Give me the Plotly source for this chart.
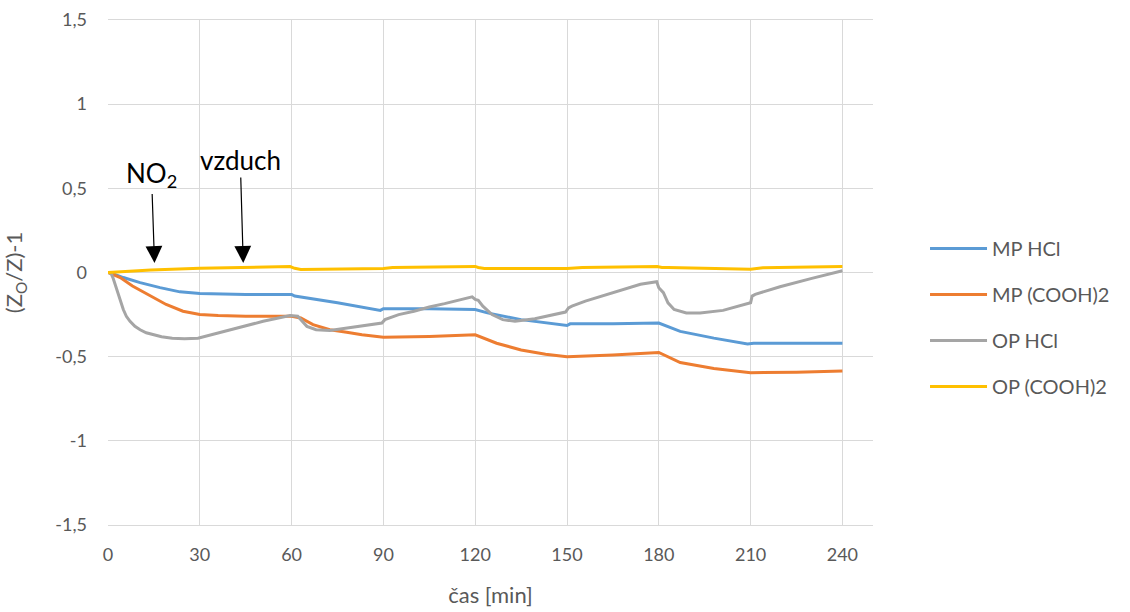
import plotly.graph_objects as go

# ---- data ----
t_mp_hcl = [0, 2, 5, 10.5, 17, 23.5, 30, 45, 60, 61, 75, 89, 90, 105, 120, 124, 135, 145, 150, 151, 165, 180, 187, 198, 209, 211, 225, 240]
mp_hcl = [0, -0.01, -0.03, -0.06, -0.09, -0.115, -0.125, -0.13, -0.13, -0.14, -0.18, -0.225, -0.215, -0.215, -0.22, -0.24, -0.28, -0.305, -0.315, -0.305, -0.305, -0.30, -0.35, -0.39, -0.425, -0.42, -0.42, -0.42]

t_mp_cooh = [0, 4, 8, 14, 19, 24.5, 30, 36, 45, 60, 63, 67, 72.5, 78, 83, 90, 105, 120, 123, 127, 135, 143, 150, 165, 180, 183, 187, 198, 210, 225, 240]
mp_cooh = [0, -0.03, -0.08, -0.14, -0.19, -0.23, -0.25, -0.256, -0.26, -0.26, -0.27, -0.31, -0.34, -0.355, -0.37, -0.385, -0.38, -0.37, -0.39, -0.42, -0.46, -0.485, -0.5, -0.49, -0.475, -0.50, -0.535, -0.57, -0.595, -0.592, -0.585]

t_op_hcl = [0, 1, 1.6, 2.5, 3.3, 4.2, 5, 6, 7.2, 8.8, 10.5, 12.5, 14.7, 17.5, 21, 25, 29.4, 35.6, 42, 50.7, 59.5, 62, 65, 68, 72.5, 78, 83, 88, 89.5, 90.5, 95, 100, 105, 110, 115, 119, 120, 121, 122.5, 125.5, 129, 133, 139.5, 145, 149.5, 150.5, 151.6, 156, 165, 174, 179.3, 180, 181.5, 183, 185, 189, 193.5, 201, 210, 210.5, 211.5, 216, 219.6, 230, 240]
op_hcl = [0, -0.005, -0.03, -0.08, -0.13, -0.18, -0.22, -0.26, -0.29, -0.32, -0.34, -0.358, -0.37, -0.382, -0.39, -0.393, -0.39, -0.36, -0.33, -0.29, -0.255, -0.26, -0.32, -0.34, -0.345, -0.33, -0.32, -0.305, -0.30, -0.28, -0.25, -0.23, -0.205, -0.185, -0.165, -0.145, -0.16, -0.165, -0.2, -0.25, -0.28, -0.29, -0.275, -0.255, -0.235, -0.21, -0.2, -0.17, -0.12, -0.07, -0.055, -0.09, -0.12, -0.18, -0.22, -0.24, -0.24, -0.225, -0.18, -0.14, -0.13, -0.105, -0.085, -0.035, 0.01]

t_op_cooh = [0, 5, 14, 30, 45, 59.5, 61, 63, 90, 93, 120, 121, 123, 150, 155, 179.5, 181, 183, 210, 214, 240]
op_cooh = [0, 0.005, 0.015, 0.025, 0.032, 0.035, 0.025, 0.018, 0.024, 0.03, 0.036, 0.03, 0.024, 0.024, 0.03, 0.036, 0.03, 0.03, 0.02, 0.028, 0.036]

series_names = ["MP HCl", "MP (COOH)2", "OP HCl", "OP (COOH)2"]
series_colors = ["#5B9BD5", "#ED7D31", "#A5A5A5", "#FFC000"]

x_tickvals = [0, 30, 60, 90, 120, 150, 180, 210, 240]
y_tickvals = [1.5, 1, 0.5, 0, -0.5, -1, -1.5]
y_ticktext = ["1,5", "1", "0,5", "0", "-0,5", "-1", "-1,5"]

font_family = "Lato, 'Open Sans', sans-serif"
grey_text = "#595959"
grid = "#D9D9D9"

fig = go.Figure()
for i, (tx, vy) in enumerate([(t_mp_hcl, mp_hcl), (t_mp_cooh, mp_cooh), (t_op_hcl, op_hcl), (t_op_cooh, op_cooh)]):
    fig.add_trace(go.Scatter(x=tx, y=vy, mode="lines", name=series_names[i],
                             legendgroup=f"g{i}",
                             line=dict(color=series_colors[i], width=3)))

fig.update_layout(
    width=1130, height=612,
    margin=dict(l=108, r=257, t=20, b=87),
    paper_bgcolor="white", plot_bgcolor="white",
    font=dict(family=font_family, color=grey_text),
    showlegend=True,
    legend=dict(x=1.068, y=0.586, xanchor="left", yanchor="top",
                font=dict(size=20, color=grey_text), tracegroupgap=17,
                itemwidth=57, bgcolor="rgba(0,0,0,0)"),
    xaxis=dict(range=[0, 250], tickvals=x_tickvals, showgrid=True, gridcolor=grid, gridwidth=1,
               zeroline=False, showline=True, linecolor=grid, linewidth=1, mirror=True,
               ticks="", ticklabelstandoff=13, automargin=False,
               tickfont=dict(size=18, color=grey_text),
               title=dict(text="čas [min]", font=dict(size=22, color=grey_text), standoff=24)),
    yaxis=dict(range=[-1.5, 1.5], tickvals=y_tickvals, ticktext=y_ticktext, showgrid=True,
               gridcolor=grid, gridwidth=1, zeroline=True, zerolinecolor=grid, zerolinewidth=1,
               showline=False, ticks="", ticklabelstandoff=20, automargin=False,
               tickfont=dict(size=18, color=grey_text),
               title=dict(text="(Z<sub>O</sub>/Z)-1", font=dict(size=22, color=grey_text), standoff=28)),
)

# annotations: labels with arrows pointing at the gas switching moments
fig.add_annotation(x=15.2, y=0.057, text="NO<sub>2</sub>", showarrow=True, ax=-3, ay=-88,
                   font=dict(size=26, color="black", family=font_family),
                   arrowhead=2, arrowsize=2.8, arrowwidth=1.2, arrowcolor="black")
fig.add_annotation(x=44.2, y=0.057, text="vzduch", showarrow=True, ax=-3, ay=-103,
                   font=dict(size=26, color="black", family=font_family),
                   arrowhead=2, arrowsize=2.8, arrowwidth=1.2, arrowcolor="black")

fig.write_html("out.html")
